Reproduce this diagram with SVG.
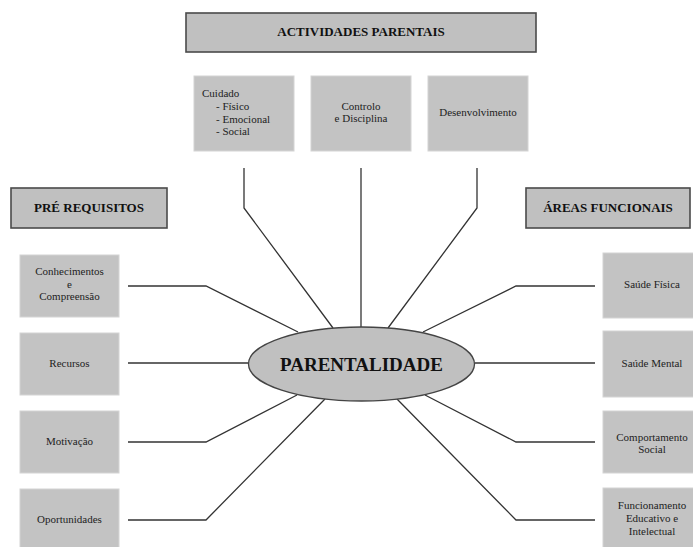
<svg xmlns="http://www.w3.org/2000/svg" width="693" height="547" viewBox="0 0 693 547">
<style>
.hdr{fill:#c0c0c0;stroke:#4a4a4a;stroke-width:1.6}
.box{fill:#c3c3c3;stroke:#d4d4d4;stroke-width:1}
.ht{font-family:"Liberation Serif",serif;font-weight:bold;font-size:13px;fill:#111;text-anchor:middle}
.t{font-family:"Liberation Serif",serif;font-size:11px;fill:#222;text-anchor:middle}
.tl{font-family:"Liberation Serif",serif;font-size:11px;fill:#222}
.ln{fill:none;stroke:#333;stroke-width:1.3}
</style>
<rect width="693" height="547" fill="#fff"/>
<g id="connectors">
<polyline class="ln" points="244,168 244,208 333,328"/>
<polyline class="ln" points="361,168 361,327"/>
<polyline class="ln" points="477,168 477,208 388,328"/>
<polyline class="ln" points="128,286 206,286 298,332"/>
<polyline class="ln" points="128,363 248,363"/>
<polyline class="ln" points="128,442 206,442 297,395"/>
<polyline class="ln" points="128,520 206,520 325,399"/>
<polyline class="ln" points="595,286 516,286 423,332"/>
<polyline class="ln" points="595,363 475,363"/>
<polyline class="ln" points="595,442 516,442 425,395"/>
<polyline class="ln" points="595,520 516,520 397,399"/>
</g>
<g id="actividades"><rect class="hdr" x="186" y="13" width="350" height="39"/><text class="ht" x="361" y="36">ACTIVIDADES PARENTAIS</text></g>
<g id="prerequisitos"><rect class="hdr" x="11" y="188" width="156" height="40"/><text class="ht" x="89" y="212">PRÉ REQUISITOS</text></g>
<g id="areas"><rect class="hdr" x="526" y="188" width="164" height="40"/><text class="ht" x="608" y="212">ÁREAS FUNCIONAIS</text></g>
<g id="cuidado"><rect class="box" x="194" y="76" width="100" height="75"/>
<text class="tl" x="202" y="97">Cuidado</text><text class="tl" x="216" y="110">- Físico</text><text class="tl" x="216" y="123">- Emocional</text><text class="tl" x="216" y="135">- Social</text></g>
<g id="controlo"><rect class="box" x="311" y="76" width="100" height="75"/><text class="t" x="361" y="110">Controlo</text><text class="t" x="361" y="122">e Disciplina</text></g>
<g id="desenvolvimento"><rect class="box" x="428" y="76" width="100" height="75"/><text class="t" x="478" y="116">Desenvolvimento</text></g>
<g id="conhecimentos"><rect class="box" x="20" y="255" width="99" height="62"/><text class="t" x="69.5" y="275">Conhecimentos</text><text class="t" x="69.5" y="288">e</text><text class="t" x="69.5" y="300">Compreensão</text></g>
<g id="recursos"><rect class="box" x="20" y="333" width="99" height="62"/><text class="t" x="69.5" y="367">Recursos</text></g>
<g id="motivacao"><rect class="box" x="20" y="411" width="99" height="62"/><text class="t" x="69.5" y="445">Motivação</text></g>
<g id="oportunidades"><rect class="box" x="20" y="489" width="99" height="62"/><text class="t" x="69.5" y="523">Oportunidades</text></g>
<g id="saudefisica"><rect class="box" x="603" y="253" width="98" height="65"/><text class="t" x="652" y="288">Saúde Física</text></g>
<g id="saudemental"><rect class="box" x="603" y="331" width="98" height="66"/><text class="t" x="652" y="367">Saúde Mental</text></g>
<g id="comportamento"><rect class="box" x="603" y="411" width="98" height="62"/><text class="t" x="652" y="441">Comportamento</text><text class="t" x="652" y="453">Social</text></g>
<g id="funcionamento"><rect class="box" x="603" y="488" width="98" height="65"/><text class="t" x="652" y="509">Funcionamento</text><text class="t" x="652" y="522">Educativo e</text><text class="t" x="652" y="535">Intelectual</text></g>
<g id="parentalidade"><ellipse cx="361.5" cy="364" rx="113" ry="37" fill="#c0c0c0" stroke="#444" stroke-width="1.3"/><text x="361.5" y="371" font-family="Liberation Serif,serif" font-weight="bold" font-size="19" fill="#111" text-anchor="middle">PARENTALIDADE</text></g>
</svg>
